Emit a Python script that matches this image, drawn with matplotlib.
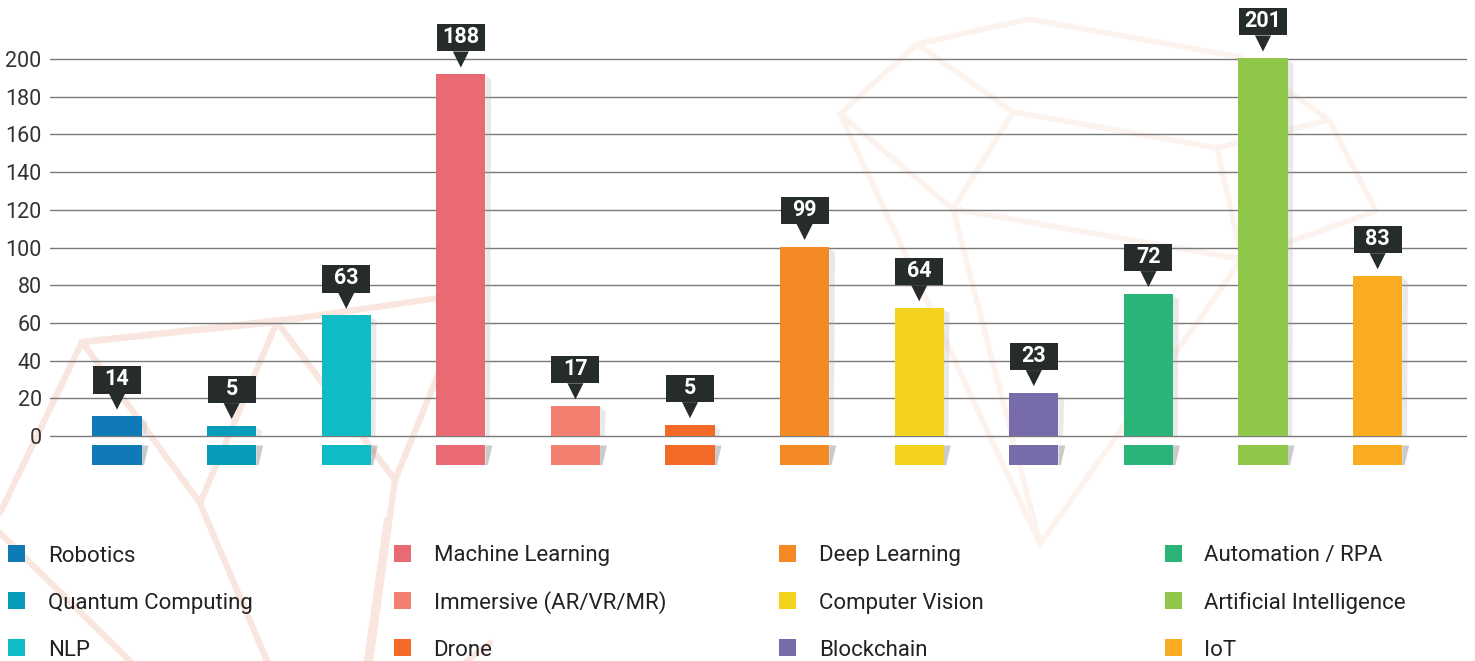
import matplotlib
matplotlib.use("Agg")
import matplotlib.pyplot as plt
from matplotlib.patches import Rectangle, Polygon

plt.rcParams['font.family'] = ['Roboto', 'DejaVu Sans']

# data
categories = ["Robotics", "Quantum Computing", "NLP", "Machine Learning",
              "Immersive (AR/VR/MR)", "Drone", "Deep Learning", "Computer Vision",
              "Blockchain", "Automation / RPA", "Artificial Intelligence", "IoT"]
values = [14, 5, 63, 188, 17, 5, 99, 64, 23, 72, 201, 83]
# bar heights as drawn (they differ a little from the printed values)
bar_heights = [10.5, 5.5, 64, 192, 16, 6, 100.5, 68, 23, 75.5, 200.5, 85]
colors = ["#0f7ab5", "#069cba", "#0fbbc5", "#e96a73", "#f27f6f", "#f26a25",
          "#f48a24", "#f4d220", "#776ca9", "#2bb477", "#8fc74a", "#faad21"]
yticks = list(range(0, 201, 20))

# decorative background polygons (pixel coords of the 1475x661 canvas)
deco_left = [
    [(0, 513), (82, 342), (200, 503), (267, 661)],
    [(82, 342), (277, 322), (395, 480), (370, 661)],
    [(82, 342), (300, 318), (480, 292)],
    [(200, 503), (277, 322)],
    [(395, 480), (440, 370)],
    [(0, 533), (130, 661)],
    [(387, 520), (367, 661)],
    [(490, 643), (467, 661)],
]
deco_right = [
    [(840, 114), (917, 44), (1029, 19), (1240, 57), (1329, 120), (1376, 211), (1242, 259), (1040, 544), (840, 114)],
    [(917, 44), (1013, 112), (1217, 148), (1329, 120)],
    [(840, 114), (953, 209), (1242, 259), (1217, 148)],
    [(1013, 112), (953, 209), (1040, 544)],
]

fig = plt.figure(figsize=(14.75, 6.61), dpi=100)

bg = fig.add_axes([0, 0, 1, 1], zorder=0)
bg.set_xlim(0, 1475)
bg.set_ylim(661, 0)
bg.axis('off')
for line in deco_left:
    xs, ys = zip(*line)
    bg.plot(xs, ys, color='#f9e6df', lw=4.5, solid_capstyle='round', solid_joinstyle='round', zorder=1)
for line in deco_right:
    xs, ys = zip(*line)
    bg.plot(xs, ys, color='#fcf2ee', lw=4, solid_capstyle='round', solid_joinstyle='round', zorder=1)

ax = fig.add_axes([50 / 1475, 1 - 470 / 661, 1417 / 1475, 469.4 / 661], zorder=1)
ax.patch.set_alpha(0)
ax.set_xlim(-0.585, 11.78)
ax.set_ylim(-18, 231)
for s in ax.spines.values():
    s.set_visible(False)
ax.set_xticks([])
ax.set_yticks(yticks)
ax.tick_params(axis='y', length=0, pad=6, labelsize=15.5, labelcolor='#333333')
for t in yticks:
    ax.axhline(t, color='#7a7a7a', lw=1.0, zorder=1)

w = 0.43
x = list(range(len(categories)))
ax.bar(x, bar_heights, width=w, color=colors, zorder=3)
# stub under the zero line
ax.bar(x, [-10.5] * len(x), bottom=-5, width=w, color=colors, zorder=3)

for xi, h, v in zip(x, bar_heights, values):
    r = xi + w / 2
    # soft shadows on the right side
    ax.add_patch(Polygon([(r, h - 1), (r + 0.05, h - 3), (r + 0.04, 0), (r, 0)],
                         closed=True, color='#a8a8a8', alpha=0.25, lw=0, zorder=2))
    ax.add_patch(Polygon([(r, -5), (r + 0.06, -5), (r + 0.02, -15.5), (r, -15.5)],
                         closed=True, color='#8a8a8a', alpha=0.45, lw=0, zorder=2))
    # callout
    tip = h + 3.5
    ax.add_patch(Polygon([(xi, tip), (xi - 0.07, tip + 8.5), (xi + 0.07, tip + 8.5)],
                         closed=True, color='#262b2b', lw=0, zorder=4))
    ax.add_patch(Rectangle((xi - 0.21, tip + 8.5), 0.42, 14.5, color='#262b2b', lw=0, zorder=4))
    ax.text(xi, tip + 8.5 + 7.6, str(v), ha='center', va='center', color='white',
            fontsize=15.5, fontweight='bold', zorder=5)

# legend: four columns of three, filled column by column
for i, (name, c) in enumerate(zip(categories, colors)):
    col, row = divmod(i, 3)
    lx = 8 + col * 385.5
    ly = 553 + row * 47
    bg.add_patch(Rectangle((lx, ly - 8.5), 17, 17, color=c, lw=0, zorder=3))
    bg.text(lx + 40, ly + 8.5, name, ha='left', va='baseline', fontsize=16,
            color='#222222', zorder=3)

fig.savefig("out.png", dpi=100)
